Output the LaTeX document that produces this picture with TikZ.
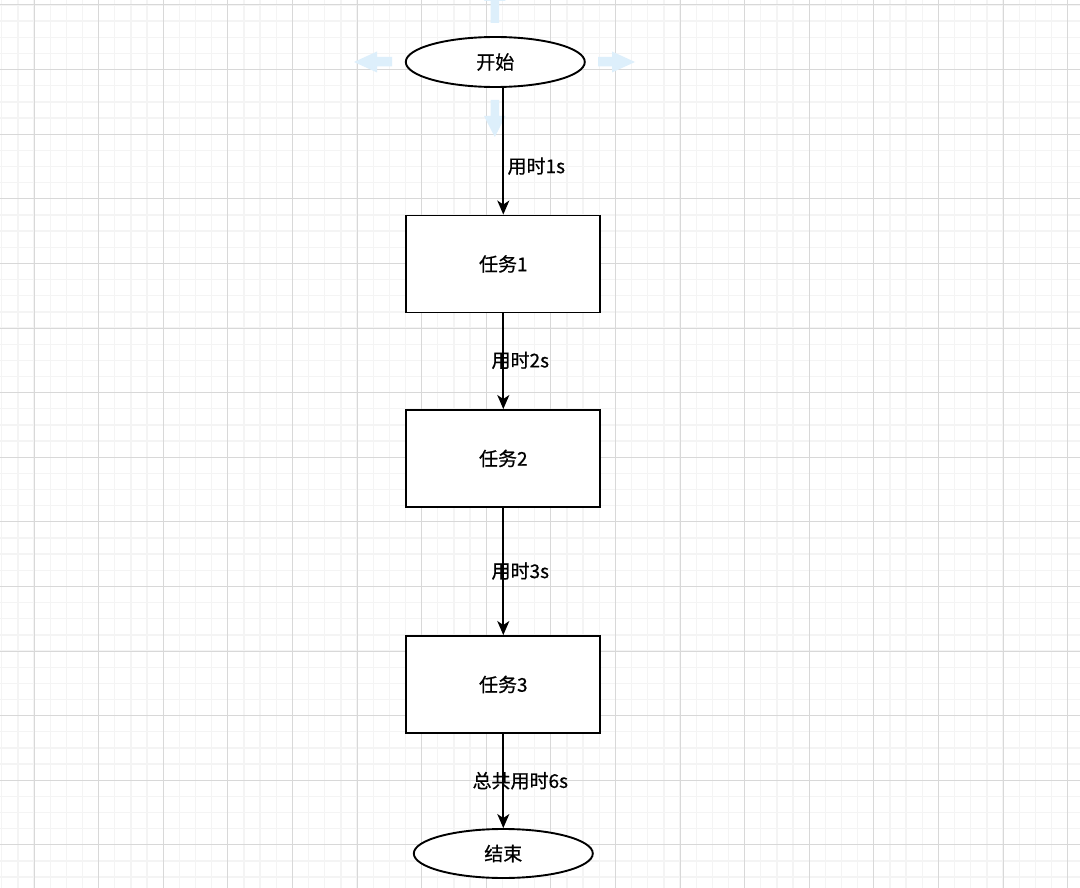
\documentclass[tikz,border=0pt]{standalone}
\usepackage{fontspec}
\setmainfont{Noto Sans CJK SC}[FakeBold=0.6]
\usetikzlibrary{shapes.geometric,arrows.meta}
\definecolor{minorgrid}{RGB}{244,244,244}
\definecolor{majorgrid}{RGB}{216,216,216}
\definecolor{hover}{RGB}{221,239,251}
\begin{document}
\begin{tikzpicture}[x=1pt,y=-1pt,
  every node/.style={font=\fontsize{19}{23}\selectfont, text=black},
  ell/.style={ellipse, draw=black, line width=1.9pt, fill=white, minimum width=179pt, minimum height=50pt, inner sep=0pt},
  taskbox/.style={rectangle, draw=black, line width=1.9pt, fill=white, minimum width=194pt, minimum height=97pt, inner sep=0pt},
  arr/.style={draw=black, line width=1.9pt, -{Stealth[length=14pt,width=12pt,inset=4pt]}},
  lbl/.style={inner sep=0pt, xshift=17pt},
  minorline/.style={draw=minorgrid, line width=1.3pt},
  majorline/.style={draw=majorgrid, line width=1pt},
  hov/.style={fill=hover}
]
\useasboundingbox (0,0) rectangle (1080,888);
\fill[white] (0,0) rectangle (1080,888);
% grid
\foreach \i in {0,...,66} \draw[minorline] ({1.7+16.15*\i},0) -- ({1.7+16.15*\i},888);
\foreach \j in {-1,...,55} \draw[minorline] (0,{5+16.15*\j}) -- (1080,{5+16.15*\j});
\foreach \k in {0,...,16} \draw[majorline] ({34+64.6*\k},0) -- ({34+64.6*\k},888);
\foreach \k in {0,...,13} \draw[majorline] (0,{5+64.6*\k}) -- (1080,{5+64.6*\k});
% hover arrows
\fill[hov] (392,57) -- (377,57) -- (377,51.5) -- (354,62) -- (377,72.5) -- (377,66.5) -- (392,66.5) -- cycle;
\fill[hov] (598,57) -- (612,57) -- (612,51.5) -- (635,62) -- (612,72.5) -- (612,66.5) -- (598,66.5) -- cycle;
\fill[hov] (490.5,100) -- (490.5,116) -- (484,116) -- (494.8,137) -- (505.6,116) -- (499,116) -- (499,100) -- cycle;
\fill[hov] (490.5,23) -- (490.5,1) -- (484,1) -- (494.8,-20) -- (505.6,1) -- (499,1) -- (499,23) -- cycle;
% nodes
\node[ell] (start) at (495.3,62) {开始};
\node[taskbox] (t1) at (503.3,264) {任务1};
\node[taskbox] (t2) at (503.3,458.5) {任务2};
\node[taskbox] (t3) at (503.3,684.5) {任务3};
\node[ell, minimum height=49pt] (finish) at (503.3,853.5) {结束};
% connectors
\draw[arr] (t1.north |- start.south) -- node[lbl, pos=0.617, xshift=16pt] {用时1s} (t1.north);
\draw[arr] (t1.south) -- node[lbl, pos=0.49] {用时2s} (t2.north);
\draw[arr] (t2.south) -- node[lbl, pos=0.496] {用时3s} (t3.north);
\draw[arr] (t3.south) -- node[lbl, pos=0.497] {总共用时6s} (finish.north);
\end{tikzpicture}
\end{document}
